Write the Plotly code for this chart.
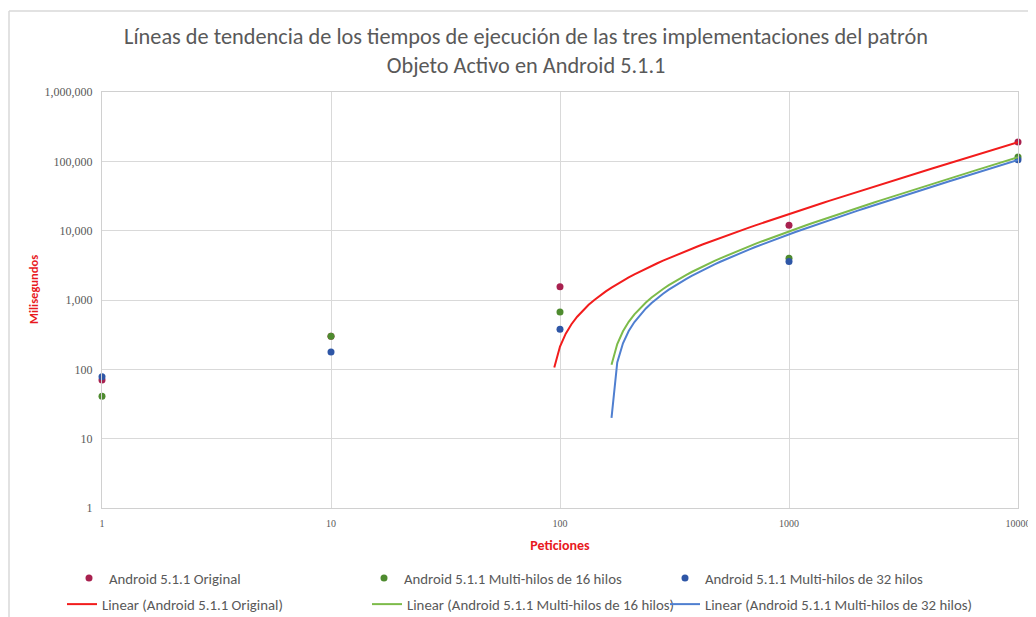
import numpy as np
import plotly.graph_objects as go

# ---- data ----
peticiones = [1, 10, 100, 1000, 10000]
original = [70, 300, 1550, 12000, 190000]
hilos16 = [41, 300, 670, 4000, 115000]
hilos32 = [78, 178, 380, 3600, 105000]

series_names = ["Android 5.1.1 Original",
                "Android 5.1.1 Multi-hilos de 16 hilos",
                "Android 5.1.1 Multi-hilos de 32 hilos"]
trend_names = ["Linear (Android 5.1.1 Original)",
               "Linear (Android 5.1.1 Multi-hilos de 16 hilos)",
               "Linear (Android 5.1.1 Multi-hilos de 32 hilos)"]

x_tick_vals = [1, 10, 100, 1000, 10000]
x_tick_labels = ["1", "10", "100", "1000", "10000"]
y_tick_vals = [1, 10, 100, 1000, 10000, 100000, 1000000]
y_tick_labels = ["1", "10", "100", "1,000", "10,000", "100,000", "1,000,000"]

title_text = ("Líneas de tendencia de los tiempos de ejecución de las tres implementaciones del patrón"
              "<br>Objeto Activo en Android 5.1.1")
x_title = "Peticiones"
y_title = "Milisegundos"

marker_colors = ["#A8214F", "#4E8B2F", "#2E56A6"]
line_colors = ["#F21C1C", "#7DBB4A", "#4F7FD0"]

font_main = "Carlito, Liberation Sans Narrow, Open Sans, sans-serif"
font_ticks = "Liberation Serif, DejaVu Serif, serif"

# page offset (body margin) and geometry in screenshot pixels
OFF = 8
W, H = 1036, 617
PL, PR, PT, PB = 102, 1018, 92, 508          # plot area in screenshot pixels
L, T = PL - OFF, PT - OFF
R = W - (PR - OFF)
B = H - (PB - OFF)
pw, ph = W - L - R, H - T - B

def px_x(p):
    return (p - OFF - L) / pw

def px_y(p):
    return (H - B - (p - OFF)) / ph

# legend slots (screenshot pixels): one legend per entry
marker_legend_pos = [(69, 562), (364, 562), (665, 562)]
line_legend_pos = [(62, 588), (367, 588), (665, 588)]

fig = go.Figure()

all_series = [original, hilos16, hilos32]
legend_layout = {}
legend_font = dict(family=font_main, size=14.8, color="#595959")
n = 1
for name, ys, col, pos in zip(series_names, all_series, marker_colors, marker_legend_pos):
    key = "legend" if n == 1 else f"legend{n}"
    fig.add_trace(go.Scatter(x=peticiones, y=ys, mode="markers", name=name,
                             marker=dict(color=col, size=7),
                             cliponaxis=False, legend=key))
    legend_layout[key] = dict(orientation="h", x=px_x(pos[0]), xanchor="left",
                              y=px_y(pos[1]), yanchor="top",
                              font=legend_font, itemwidth=30,
                              bgcolor="rgba(0,0,0,0)")
    n += 1

# linear trendlines (least squares on the data, as Excel does)
xs = np.logspace(0, 4, 161)
for name, ys, col, pos in zip(trend_names, all_series, line_colors, line_legend_pos):
    key = f"legend{n}"
    slope, intercept = np.polyfit(peticiones, ys, 1)
    yy = slope * xs + intercept
    keep = yy > 10
    fig.add_trace(go.Scatter(x=xs[keep], y=yy[keep], mode="lines", name=name,
                             line=dict(color=col, width=2), legend=key))
    legend_layout[key] = dict(orientation="h", x=px_x(pos[0]), xanchor="left",
                              y=px_y(pos[1]), yanchor="top",
                              font=legend_font, itemwidth=30,
                              bgcolor="rgba(0,0,0,0)")
    n += 1

# outer chart border (top and left visible)
fig.add_shape(type="line", xref="paper", yref="paper",
              x0=px_x(9), x1=px_x(W + 20), y0=px_y(11), y1=px_y(11),
              line=dict(color="#D9D9D9", width=1.5))
fig.add_shape(type="line", xref="paper", yref="paper",
              x0=px_x(9), x1=px_x(9), y0=px_y(11), y1=px_y(H + 20),
              line=dict(color="#D9D9D9", width=1.5))

# y axis title
fig.add_annotation(text="<b>" + y_title + "</b>", xref="paper", yref="paper",
                   x=px_x(33), y=px_y(290), textangle=-90, showarrow=False,
                   xanchor="center", yanchor="middle",
                   font=dict(family=font_main, size=12.5, color="#E8191E"))

fig.update_layout(
    width=W, height=H,
    margin=dict(l=L, r=R, t=T, b=B, autoexpand=False),
    paper_bgcolor="white", plot_bgcolor="white",
    title=dict(text=title_text, x=0.5, xref="container", xanchor="center",
               y=1 - 36 / H, yanchor="top",
               font=dict(family=font_main, size=22.3, color="#595959")),
    showlegend=True,
    xaxis=dict(type="log", range=[0, 4], automargin=False,
               tickvals=x_tick_vals, ticktext=x_tick_labels,
               tickfont=dict(family=font_ticks, size=10, color="#595959"),
               showgrid=True, gridcolor="#D9D9D9", gridwidth=1,
               showline=True, linecolor="#D0D0D0", mirror=True,
               zeroline=False, ticks="", ticklabelstandoff=6,
               title=dict(text="<b>" + x_title + "</b>", standoff=12,
                          font=dict(family=font_main, size=14, color="#E8191E"))),
    yaxis=dict(type="log", range=[0, 6], automargin=False,
               tickvals=y_tick_vals, ticktext=y_tick_labels,
               tickfont=dict(family=font_ticks, size=12, color="#595959"),
               showgrid=True, gridcolor="#D9D9D9", gridwidth=1,
               showline=True, linecolor="#D0D0D0", mirror=True,
               zeroline=False, ticks="", ticklabelstandoff=6),
    **legend_layout,
)

fig.write_html("out.html")
